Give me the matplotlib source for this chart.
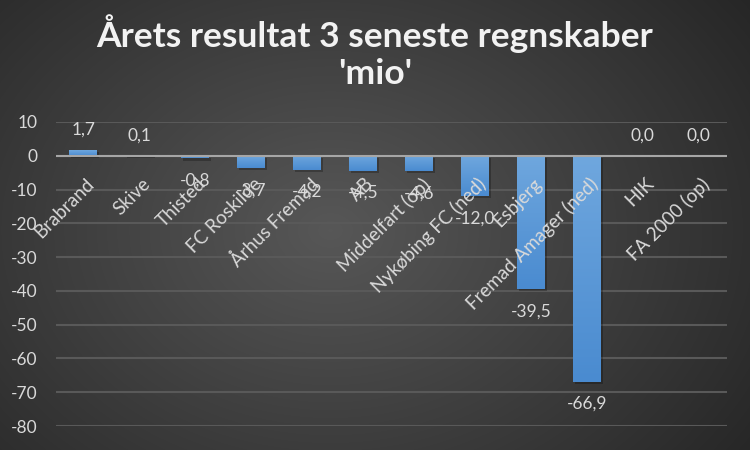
import numpy as np
import matplotlib.pyplot as plt
from matplotlib.colors import LinearSegmentedColormap
from matplotlib.patches import Rectangle

# klubber og resultat (mio)
clubs = ["Brabrand", "Skive", "Thisted", "FC Roskilde", "Århus Fremad", "AB",
         "Middelfart (op)", "Nykøbing FC (ned)", "Esbjerg", "Fremad Amager (ned)",
         "HIK", "FA 2000 (op)"]
results = [1.7, 0.1, -0.8, -3.7, -4.2, -4.5, -4.6, -12.0, -39.5, -66.9, 0.0, 0.0]
yticks = [10, 0, -10, -20, -30, -40, -50, -60, -70, -80]

plt.rcParams['font.family'] = ['Lato', 'DejaVu Sans']
txt_col = '#d9d9d9'
fs = 12.5

fig = plt.figure(figsize=(7.5, 4.5), dpi=100)

# radial gradient background
bg = fig.add_axes([0, 0, 1, 1], zorder=0)
yy, xx = np.mgrid[0:450, 0:750]
r = np.sqrt(((xx - 330) / 520.0) ** 2 + ((yy - 230) / 400.0) ** 2)
cmap_bg = LinearSegmentedColormap.from_list('bg', ['#575757', '#262626'])
bg.imshow(np.clip(r, 0, 1), cmap=cmap_bg, vmin=0, vmax=1, aspect='auto')
bg.axis('off')

ax = fig.add_axes([0.074, 0.0533, 0.895, 0.6756], zorder=1)
ax.patch.set_alpha(0)
x = np.arange(len(clubs))
bars = ax.bar(x, results, width=0.5, color='none', zorder=3)

# gradient fill + soft shadow for each bar
cmap_bar = LinearSegmentedColormap.from_list('bar', ['#6fa7de', '#4a8bd0'])
grad = np.linspace(0, 1, 100).reshape(-1, 1)
for b in bars:
    x0, y0 = b.get_x(), b.get_y()
    w, h = b.get_width(), b.get_height()
    if h == 0:
        continue
    bot, top = min(y0, y0 + h), max(y0, y0 + h)
    sh = Rectangle((x0 + 0.03, bot - 0.6), w, top - bot, color='black',
                   alpha=0.25, lw=0, zorder=2)
    ax.add_patch(sh)
    im = ax.imshow(grad, cmap=cmap_bar, aspect='auto', origin='upper',
                   extent=[x0, x0 + w, bot, top], zorder=3)
    im.set_clip_path(b)

ax.set_xlim(-0.5, len(clubs) - 0.5)
ax.set_ylim(-80, 10)
ax.set_yticks(yticks)
ax.set_yticklabels([str(t) for t in yticks], color=txt_col, fontsize=fs)
ax.set_xticks([])
ax.tick_params(axis='y', length=0, pad=13)
for s in ax.spines.values():
    s.set_visible(False)
ax.grid(axis='y', color='#595959', linewidth=1.5, zorder=0)
ax.axhline(0, color='#a6a6a6', linewidth=1.5, zorder=4)

# category labels at zero line
for i, name in enumerate(clubs):
    ax.annotate(name, (i, 0), xytext=(2, -19), textcoords='offset pixels',
                rotation=45, rotation_mode='anchor', ha='right', va='top',
                color=txt_col, fontsize=13.5, zorder=5)

# data labels
for i, v in enumerate(results):
    lab = f"{v:.1f}".replace('.', ',')
    off = 20 if v >= 0 else -22
    ax.annotate(lab, (i, v), xytext=(0, off), textcoords='offset pixels',
                ha='center', va='center', color=txt_col, fontsize=fs, zorder=5)

fig.text(0.5, 0.885, "Årets resultat 3 seneste regnskaber\n'mio'", ha='center',
         va='center', color='#f2f2f2', fontsize=25.5, fontweight='bold',
         linespacing=1.2)

fig.savefig('out.png', dpi=100)
